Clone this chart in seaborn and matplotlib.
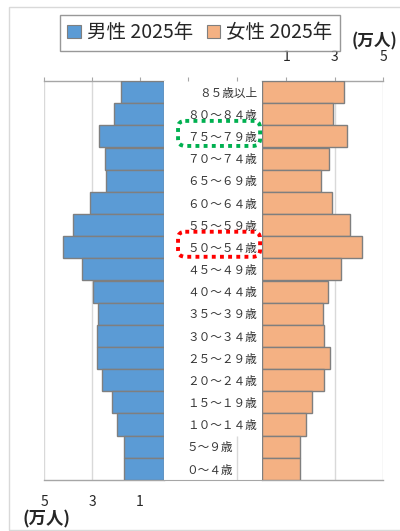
import numpy as np
import pandas as pd
import seaborn as sns
import matplotlib.pyplot as plt
from matplotlib.patches import Patch, Rectangle, FancyBboxPatch

# ---- data (万人) ----
ages = ["８５歳以上", "８０～８４歳", "７５～７９歳", "７０～７４歳", "６５～６９歳",
        "６０～６４歳", "５５～５９歳", "５０～５４歳", "４５～４９歳", "４０～４４歳",
        "３５～３９歳", "３０～３４歳", "２５～２９歳", "２０～２４歳", "１５～１９歳",
        "１０～１４歳", "５～９歳", "０～４歳"]
male = [1.79, 2.07, 2.71, 2.45, 2.43, 3.10, 3.79, 4.21, 3.42, 2.96,
        2.77, 2.80, 2.81, 2.59, 2.16, 1.94, 1.68, 1.68]
female = [3.37, 2.93, 3.51, 2.75, 2.45, 2.91, 3.65, 4.15, 3.28, 2.74,
          2.51, 2.58, 2.82, 2.58, 2.08, 1.83, 1.58, 1.58]
ticks = [1, 3, 5]
series_names = ["男性 2025年", "女性 2025年"]
unit_label = "(万人)"
green_age = "７５～７９歳"
red_age = "５０～５４歳"

df = pd.DataFrame({"age": ages, "male": male, "female": female})

BLUE = "#5B9BD5"
ORANGE = "#F4B183"
EDGE = "#7F7F7F"
GRID = "#D9D9D9"
AXIS = "#A6A6A6"
TEXT = "#262626"

sns.set_style("white")
plt.rcParams["font.family"] = ["Noto Sans CJK JP", "DejaVu Sans"]

W, H = 400, 531
fig = plt.figure(figsize=(W / 100, H / 100), dpi=100)


def box(x0, y0, x1, y1):
    return [x0 / W, 1 - y1 / H, (x1 - x0) / W, (y1 - y0) / H]


TOP, BOT = 81, 480
axL = fig.add_axes(box(44, TOP, 164, BOT))
axM = fig.add_axes(box(164, TOP, 262, BOT))
axR = fig.add_axes(box(262, TOP, 383, BOT))

n = len(ages)
ylim = (n - 0.5, -0.5)

# male bars (axis runs right-to-left)
sns.barplot(data=df, x="male", y="age", orient="h", ax=axL, color=BLUE,
            saturation=1, width=1.0, edgecolor=EDGE, linewidth=1.0, zorder=3)
axL.set_xlim(5, 0)

# female bars
sns.barplot(data=df, x="female", y="age", orient="h", ax=axR, color=ORANGE,
            saturation=1, width=1.0, edgecolor=EDGE, linewidth=1.0, zorder=3)
axR.set_xlim(0, 5)

for ax in (axL, axR):
    ax.set_ylim(*ylim)
    ax.set_xlabel("")
    ax.set_ylabel("")
    ax.set_yticks([])
    ax.set_xticks(ticks)
    ax.set_axisbelow(True)
    ax.grid(axis="x", color=GRID, lw=1.0, zorder=0)
    for s in ("left", "right"):
        ax.spines[s].set_visible(False)
    for s in ("top", "bottom"):
        ax.spines[s].set_color(AXIS)
        ax.spines[s].set_linewidth(1.0)
    ax.tick_params(axis="x", direction="out", length=3, width=0.8,
                   color=AXIS, labelsize=10, labelcolor=TEXT)

axL.tick_params(axis="x", top=True, bottom=False, labeltop=False,
                labelbottom=True, pad=7.5)
axR.tick_params(axis="x", top=True, bottom=False, labeltop=True,
                labelbottom=False, pad=9.5)

# middle column with age labels
axM.set_xlim(0, 98 / 24.2)
axM.set_ylim(*ylim)
axM.set_yticks([])
axM.set_xticks([1, 3])
axM.set_xticklabels([])
axM.tick_params(axis="x", top=True, bottom=False, direction="out", length=3,
                width=0.8, color=AXIS)
for s in ("left", "right", "top"):
    axM.spines[s].set_visible(False)
axM.spines["bottom"].set_color(AXIS)
axM.vlines(3, n - 2 - 0.5, n - 0.5, color=GRID, lw=1.0)

for i, lab in enumerate(ages):
    xr = 3.84 if i < n - 2 else 2.85
    axM.text(xr, i + 0.05, lab, ha="right", va="center", fontsize=8.4,
             color="#333333")

# dotted highlight boxes
for lab, col in ((green_age, "#00B050"), (red_age, "#FF0000")):
    i = ages.index(lab)
    y0, y1 = i - 0.7, i + 0.43
    x0, x1 = 0.58, 3.97
    p = FancyBboxPatch((x0, y0), x1 - x0, y1 - y0,
                       boxstyle="round,pad=0,rounding_size=0.3",
                       fill=False, ec=col, lw=2.8, linestyle=(0, (1, 1.1)),
                       clip_on=False, zorder=5)
    axM.add_patch(p)

# legend
handles = [Patch(facecolor=BLUE, edgecolor=EDGE, lw=0.8),
           Patch(facecolor=ORANGE, edgecolor=EDGE, lw=0.8)]
leg = fig.legend(handles, series_names, loc="upper left",
                 bbox_to_anchor=(60 / W, 1 - 15 / H), ncol=2, fontsize=14,
                 frameon=True, fancybox=False, edgecolor="#7F7F7F",
                 handlelength=0.7, handleheight=0.7, handletextpad=0.3,
                 columnspacing=0.7, borderpad=0.38, borderaxespad=0)
leg.get_frame().set_linewidth(1.0)
for t in leg.get_texts():
    t.set_color(TEXT)

# unit labels
fig.text(352 / W, 1 - 41 / H, unit_label, ha="left", va="center",
         fontsize=12, fontweight="bold", color=TEXT)
fig.text(23 / W, 1 - 519 / H, unit_label, ha="left", va="center",
         fontsize=12.5, fontweight="bold", color=TEXT)

# outer frame
fig.add_artist(Rectangle((8.5 / W, 1 - 529.5 / H), 1.2, (529.5 - 6.5) / H,
                         transform=fig.transFigure, fill=False,
                         ec=GRID, lw=1.0))

fig.savefig("out.png", dpi=100)
